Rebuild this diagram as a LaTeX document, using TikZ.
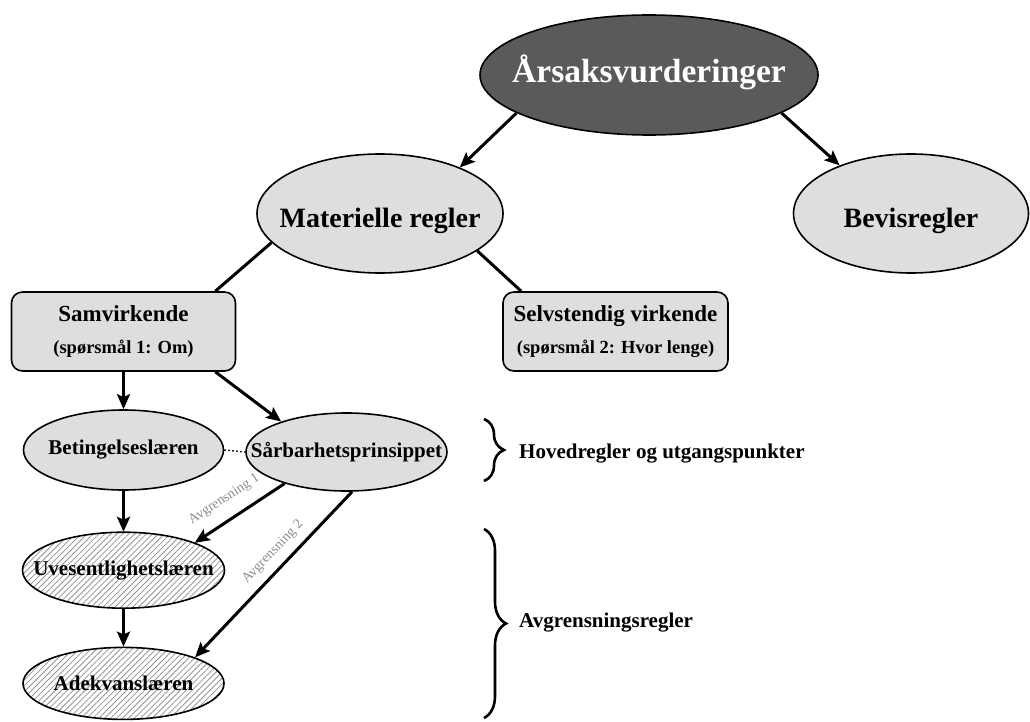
\documentclass[tikz,border=0pt]{standalone}
\usepackage{fontspec}
\setmainfont{Liberation Serif}
\usetikzlibrary{shapes.geometric,arrows.meta,positioning,decorations.pathreplacing,patterns.meta}
\definecolor{ellgray}{HTML}{DEDEDE}
\definecolor{topgray}{HTML}{5A5A5A}
\definecolor{labelgray}{HTML}{8C8C8C}
\newcommand{\ctr}[1]{\makebox[0pt]{#1}}

\begin{document}
\begin{tikzpicture}[
    x=1pt, y=-1pt,
    ell/.style={draw, ellipse, line width=1.6pt, fill=ellgray, inner sep=0pt},
    hatch/.style={draw, ellipse, line width=1.6pt, inner sep=0pt, preaction={fill=white},
        pattern={Lines[angle=45, distance=4.2pt, line width=0.8pt]}, pattern color=gray!85},
    big/.style={font=\fontsize{28}{30}\selectfont\bfseries, text height=28pt, text depth=0pt},
    mid/.style={font=\fontsize{21}{24}\selectfont\bfseries},
    box/.style={draw, rectangle, rounded corners=11pt, line width=1.6pt, fill=ellgray,
        minimum width=224pt, minimum height=79pt, align=center, font=\fontsize{23}{32}\selectfont\bfseries},
    side/.style={font=\fontsize{21}{24}\selectfont\bfseries, inner sep=0pt, anchor=west},
    lbl/.style={sloped, text=labelgray, font=\fontsize{14}{16}\selectfont},
    arrow/.style={-{Stealth[length=15pt, width=13pt, inset=3pt]}, line width=3pt},
    link/.style={line width=3pt},
    dots/.style={line width=1.5pt, dash pattern=on 1.5pt off 2.5pt},
    curly/.style={decorate, decoration={brace, amplitude=#1}, line width=2.6pt}
]
\useasboundingbox (0,0) rectangle (1030,722);

% Top levels
\node[ell, fill=topgray, text=white, minimum width=338pt, minimum height=120pt,
      font=\fontsize{33.5}{36}\selectfont\bfseries, text height=22pt, text depth=6pt]
      (root) at (649,75) {\ctr{Årsaksvurderinger}};
\node[ell, big, minimum width=246pt, minimum height=119pt] (mat) at (380,213.5) {\ctr{Materielle regler}};
\node[ell, big, minimum width=235pt, minimum height=119pt] (bev) at (911,213.5) {\ctr{Bevisregler}};

% Boxes
\node[box] (samv) at (123.5,331.5) {Samvirkende\\{\fontsize{18.5}{20}\selectfont (spørsmål 1: Om)}};
\node[box, minimum width=225pt] (selv) at (615.5,331.5) {Selvstendig virkende\\{\fontsize{18.5}{20}\selectfont (spørsmål 2: Hvor lenge)}};

% Rules
\node[ell, mid, minimum width=200pt, minimum height=80pt] (bet) at (123.5,450) {\ctr{Betingelseslæren}};
\node[ell, mid, minimum width=201pt, minimum height=78pt] (sar) at (346.5,452) {\ctr{Sårbarhetsprinsippet}};
\node[hatch, mid, minimum width=202pt, minimum height=76pt, below=41pt of bet] (uves) {\ctr{Uvesentlighetslæren}};
\node[hatch, mid, minimum width=201pt, minimum height=72pt, below=38pt of uves] (adek) {\ctr{Adekvanslæren}};

% Braces and their texts
\coordinate (b1top) at (484,419);
\coordinate (b1bot) at (484,481);
\coordinate (b2top) at (484,529);
\coordinate (b2bot) at (484,718);
\draw[curly=20pt] (b1top) -- (b1bot);
\draw[curly=22pt] (b2top) -- (b2bot);
\node[side] (hoved) at (519,454) {Hovedregler og utgangspunkter};
\node[side] (avgr) at (519,623) {Avgrensningsregler};

% Connectors
\draw[arrow] (root.196) -- (mat.30);
\draw[arrow] (root.344) -- (bev.146);
\draw[link] (mat.195) -- ([xshift=-21pt]samv.north east);
\draw[link] (mat.339) -- ([xshift=19pt]selv.north west);
\draw[arrow] (samv.south) -- (bet.north);
\draw[arrow] ([xshift=-21pt]samv.south east) -- (sar.155);
\draw[dots] (bet.east) -- (sar.west);
\draw[arrow] (bet.south) -- (uves.north);
\draw[arrow] (uves.south) -- (adek.north);
\draw[arrow] (sar.207.5) -- node[lbl, pos=0.55, above=9pt] (avg1) {Avgrensning 1} (uves.21.5);
\draw[arrow] (sar.278) -- node[lbl, pos=0.43, above=5pt] (avg2) {Avgrensning 2} (adek.20);

\end{tikzpicture}
\end{document}
